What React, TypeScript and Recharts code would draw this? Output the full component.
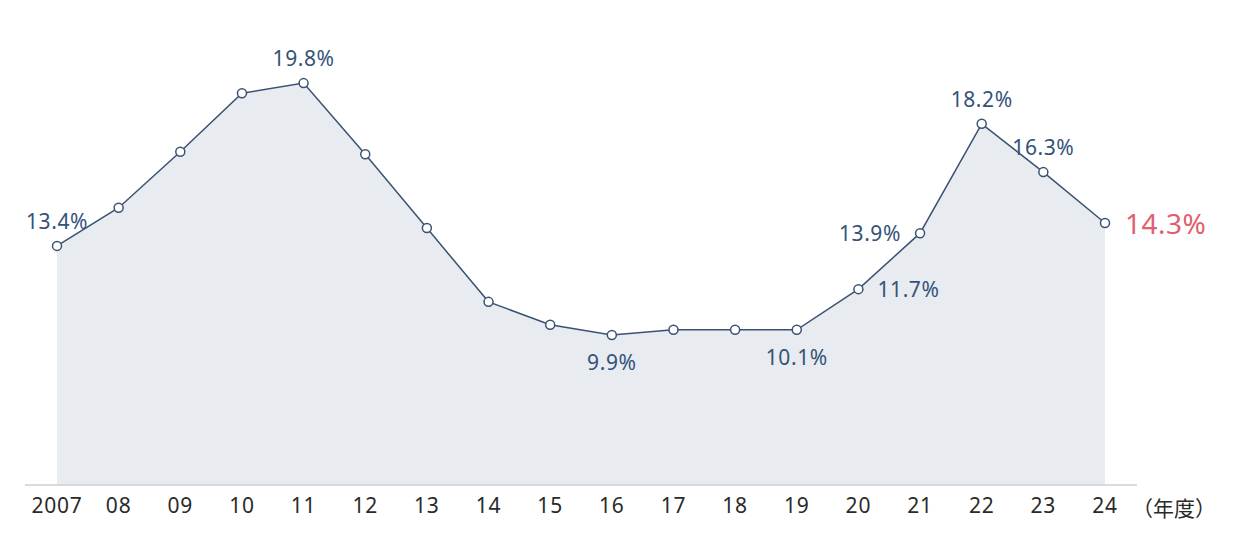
import React from 'react';
import { AreaChart, Area, XAxis, YAxis, LabelList, Label } from 'recharts';

const years = ['2007', '08', '09', '10', '11', '12', '13', '14', '15', '16', '17', '18', '19', '20', '21', '22', '23', '24'];
const rates = [13.4, 14.9, 17.1, 19.4, 19.8, 17.0, 14.1, 11.2, 10.3, 9.9, 10.1, 10.1, 10.1, 11.7, 13.9, 18.2, 16.3, 14.3];
const unitLabel = '（年度）';

// which points carry a value label, and where
const labelPlacement: Record<string, string> = {
  '2007': 'top',
  '11': 'top',
  '16': 'bottom',
  '19': 'bottom',
  '20': 'right',
  '21': 'left',
  '22': 'top',
  '23': 'top',
  '24': 'highlight',
};

const data = years.map((y, i) => ({ year: y, rate: rates[i] }));

const NAVY = '#3b5273';
const LABEL = '#34527a';
const FONT = '"Noto Sans", "Open Sans", sans-serif';

const ValueLabel = (props: any) => {
  const { x, y, value, index } = props;
  const place = labelPlacement[years[index]];
  if (!place) return null;
  const text = `${Number(value).toFixed(1)}%`;
  let tx = x, ty = y, anchor: 'start' | 'middle' | 'end' = 'middle';
  let fill = LABEL, size = 21, ls = 0.6;
  if (place === 'top') { ty = y - 25; }
  else if (place === 'bottom') { ty = y + 27; }
  else if (place === 'right') { tx = x + 19; anchor = 'start'; }
  else if (place === 'left') { tx = x - 19; anchor = 'end'; }
  else if (place === 'highlight') { tx = x + 20; anchor = 'start'; fill = '#e0606e'; size = 28; ls = 0.5; }
  return (
    <text x={tx} y={ty} textAnchor={anchor} dominantBaseline="central" fill={fill}
      fontSize={size} letterSpacing={ls} fontFamily={FONT}>{text}</text>
  );
};

export default function App() {
  return (
    <div style={{ position: 'absolute', left: 0, top: 0, width: 1240, height: 559, background: '#fff' }}>
      <AreaChart width={1240} height={559} data={data}
        margin={{ top: 78, right: 103, bottom: 44, left: 25 }}>
        <YAxis hide domain={[4, 20]} />
        <XAxis dataKey="year" interval={0} tickLine={false}
          axisLine={{ stroke: '#cfcfcf', strokeWidth: 1.5 }}
          padding={{ left: 32, right: 32 }} tickMargin={7} height={30}
          tick={{ fill: '#2a2a2a', fontSize: 21, fontFamily: FONT, letterSpacing: 0.8 }}>
          <Label content={(p: any) => {
            const vb = p.viewBox || {};
            return (
              <text x={vb.x + vb.width - 5} y={vb.y + 22} dominantBaseline="central"
                fill="#2a2a2a" fontSize={21} fontFamily={'"Noto Sans CJK JP", sans-serif'}>{unitLabel}</text>
            );
          }} />
        </XAxis>
        <Area type="linear" dataKey="rate" stroke={NAVY} strokeWidth={1.5}
          fill="#e8ebef" fillOpacity={1} isAnimationActive={false}
          dot={{ r: 4.5, fill: '#fff', stroke: NAVY, strokeWidth: 1.5, fillOpacity: 1 }}
          activeDot={false}>
          <LabelList dataKey="rate" content={ValueLabel} />
        </Area>
      </AreaChart>
    </div>
  );
}
